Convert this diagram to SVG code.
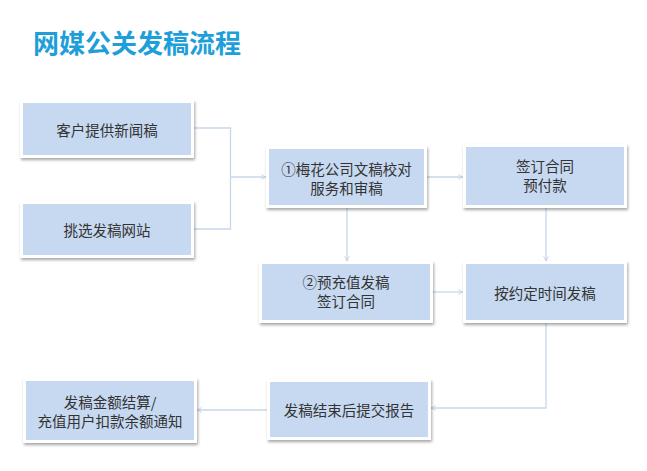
<svg xmlns="http://www.w3.org/2000/svg" width="647" height="471" viewBox="0 0 647 471">
<defs>
<filter id="sh" x="-10%" y="-10%" width="125%" height="135%">
<feDropShadow dx="1" dy="2" stdDeviation="1.5" flood-color="#000" flood-opacity="0.35"/>
</filter>
<marker id="ar" viewBox="0 0 10 10" refX="9" refY="5" markerWidth="6" markerHeight="6" orient="auto" markerUnits="userSpaceOnUse">
<path d="M1,1 L9,5 L1,9" fill="none" stroke="#C3D3E6" stroke-width="1.4"/>
</marker>
<style>
.o{fill:#fff;filter:url(#sh)}
.i{fill:#C6D9F1}
.t{font-family:"Noto Sans CJK SC","Microsoft YaHei",sans-serif;font-size:14.5px;fill:#333;text-anchor:middle;dominant-baseline:central}
.c{fill:none;stroke:#C8D7EA;stroke-width:1.3}
</style>
</defs>
<rect width="647" height="471" fill="#fff"/>
<text x="33" y="53" style="font-family:'Noto Sans CJK SC',sans-serif;font-size:26px;font-weight:bold;fill:#1E9FDA">网媒公关发稿流程</text>
<g id="connectors">
<path class="c" d="M194,128 H230.5 V229 H194"/>
<path class="c" d="M230.5,177 H266" marker-end="url(#ar)"/>
<path class="c" d="M427,177 H463" marker-end="url(#ar)"/>
<path class="c" d="M347,208 V261" marker-end="url(#ar)"/>
<path class="c" d="M546,208 V261" marker-end="url(#ar)"/>
<path class="c" d="M433,292 H463" marker-end="url(#ar)"/>
<path class="c" d="M546,323 V408 H431" marker-end="url(#ar)"/>
<path class="c" d="M267,410 H197" marker-end="url(#ar)"/>
</g>
<g id="n1">
<rect class="o" x="20" y="100" width="174" height="58"/>
<rect class="i" x="23" y="103" width="168" height="52"/>
<text class="t" x="107" y="129">客户提供新闻稿</text>
</g>
<g id="n2">
<rect class="o" x="20" y="201" width="174" height="57"/>
<rect class="i" x="23" y="204" width="168" height="51"/>
<text class="t" x="107" y="229">挑选发稿网站</text>
</g>
<g id="n3">
<rect class="o" x="266" y="146" width="161" height="62"/>
<rect class="i" x="269" y="149" width="155" height="56"/>
<text class="t" x="346.5" y="168">①梅花公司文稿校对</text>
<text class="t" x="346.5" y="187">服务和审稿</text>
</g>
<g id="n4">
<rect class="o" x="463" y="144" width="164" height="64"/>
<rect class="i" x="466" y="147" width="158" height="58"/>
<text class="t" x="545" y="165">签订合同</text>
<text class="t" x="545" y="184">预付款</text>
</g>
<g id="n5">
<rect class="o" x="259" y="261" width="174" height="62"/>
<rect class="i" x="262" y="264" width="168" height="56"/>
<text class="t" x="346" y="281">②预充值发稿</text>
<text class="t" x="346" y="300">签订合同</text>
</g>
<g id="n6">
<rect class="o" x="463" y="261" width="164" height="62"/>
<rect class="i" x="466" y="264" width="158" height="56"/>
<text class="t" x="545" y="292">按约定时间发稿</text>
</g>
<g id="n7">
<rect class="o" x="267" y="379" width="164" height="61"/>
<rect class="i" x="270" y="382" width="158" height="55"/>
<text class="t" x="349" y="409">发稿结束后提交报告</text>
</g>
<g id="n8">
<rect class="o" x="23" y="378" width="174" height="65"/>
<rect class="i" x="26" y="381" width="168" height="59"/>
<text class="t" x="110" y="401">发稿金额结算/</text>
<text class="t" x="110" y="420">充值用户扣款余额通知</text>
</g>
</svg>
